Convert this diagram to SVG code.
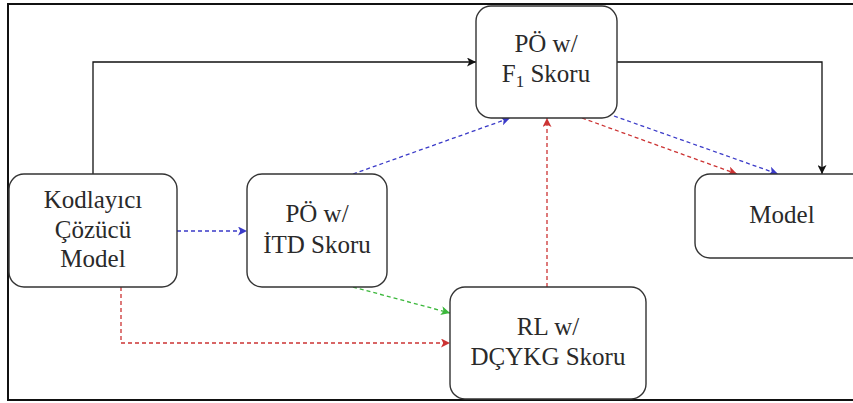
<svg xmlns="http://www.w3.org/2000/svg" width="853" height="403" viewBox="0 0 853 403">
<defs>
<style>
.box{fill:#fff;stroke:#333;stroke-width:1.4}
.t{font-family:'Liberation Serif','DejaVu Serif',serif;font-size:25px;fill:#2a2a2a;text-anchor:middle}
.c{fill:none;stroke-width:1.3}
.d{stroke-dasharray:4 3}
.k{stroke:#111}
.b{stroke:#3a3ac8}
.r{stroke:#cc3333}
.g{stroke:#3cb83c}
</style>
<marker id="mk" viewBox="0 0 10 10" refX="10" refY="5" markerUnits="userSpaceOnUse" markerWidth="11" markerHeight="9" orient="auto"><path d="M0,0 L10,5 L0,10 L2.5,5 Z" fill="#111"/></marker>
<marker id="mb" viewBox="0 0 10 10" refX="10" refY="5" markerUnits="userSpaceOnUse" markerWidth="11" markerHeight="9" orient="auto"><path d="M0,0 L10,5 L0,10 L2.5,5 Z" fill="#3a3ac8"/></marker>
<marker id="mr" viewBox="0 0 10 10" refX="10" refY="5" markerUnits="userSpaceOnUse" markerWidth="11" markerHeight="9" orient="auto"><path d="M0,0 L10,5 L0,10 L2.5,5 Z" fill="#cc3333"/></marker>
<marker id="mg" viewBox="0 0 10 10" refX="10" refY="5" markerUnits="userSpaceOnUse" markerWidth="11" markerHeight="9" orient="auto"><path d="M0,0 L10,5 L0,10 L2.5,5 Z" fill="#3cb83c"/></marker>
</defs>
<rect x="0" y="0" width="853" height="403" fill="#fff"/>
<path d="M853,4 H8 V400 H853" fill="none" stroke="#111" stroke-width="2"/>
<g id="connectors">
<path class="c k" d="M93,174 V62 H476" marker-end="url(#mk)"/>
<path class="c k" d="M617,62 H822 V174" marker-end="url(#mk)"/>
<path class="c d b" d="M177,231 H247" marker-end="url(#mb)"/>
<path class="c d b" d="M353,174 L510,118" marker-end="url(#mb)"/>
<path class="c d r" d="M547,287 V118" marker-end="url(#mr)"/>
<path class="c d r" d="M582,118 L737,174" marker-end="url(#mr)"/>
<path class="c d b" d="M614,116 L778,174" marker-end="url(#mb)"/>
<path class="c d g" d="M353,287 L450,313" marker-end="url(#mg)"/>
<path class="c d r" d="M121,287 V343 H450" marker-end="url(#mr)"/>
</g>
<g id="node-encdec">
<rect class="box" x="9" y="174" width="168" height="113" rx="15"/>
<text class="t" x="93" y="208">Kodlayıcı</text>
<text class="t" x="93" y="238">Çözücü</text>
<text class="t" x="93" y="267">Model</text>
</g>
<g id="node-itd">
<rect class="box" x="247" y="174" width="140" height="113" rx="15"/>
<text class="t" x="317" y="222">PÖ w/</text>
<text class="t" x="317" y="253">İTD Skoru</text>
</g>
<g id="node-f1">
<rect class="box" x="476" y="6" width="141" height="112" rx="15"/>
<text class="t" x="546" y="52">PÖ w/</text>
<text class="t" x="546" y="82">F<tspan font-size="17" dy="5">1</tspan><tspan dy="-5"> Skoru</tspan></text>
</g>
<g id="node-model">
<rect class="box" x="695" y="174" width="174" height="84" rx="15"/>
<text class="t" x="782" y="223">Model</text>
</g>
<g id="node-rl">
<rect class="box" x="450" y="287" width="196" height="112" rx="15"/>
<text class="t" x="548" y="335">RL w/</text>
<text class="t" x="548" y="365">DÇYKG Skoru</text>
</g>
</svg>
